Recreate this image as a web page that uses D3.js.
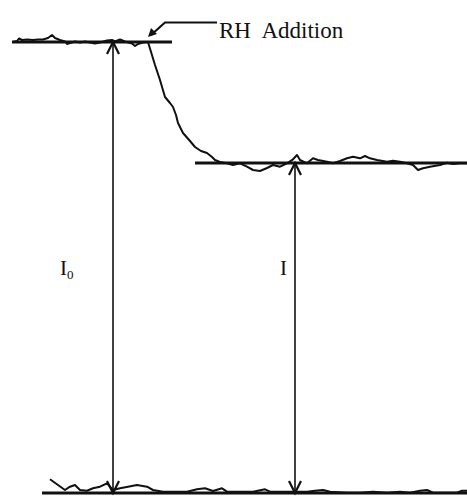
<!DOCTYPE html>
<html>
<head>
<meta charset="utf-8">
<script src="https://cdn.jsdelivr.net/npm/d3@7"></script>
<style>
  html, body { margin: 0; padding: 0; background: #fff; }
  svg { display: block; }
</style>
</head>
<body>
<div id="chart"></div>
<script>
// ---- data (time in s, detector signal in arbitrary units) ----
const topTrace = [[1,451],[5,452],[7,454.5],[10,453],[15,453.5],[21,453],[26,453.5],[31,453.5],[36,455],[40,458],[43,455],[48,453],[53,451.5],[55,449],[58,450],[63,451.5],[68,450.5],[73,451.5],[78,450.5],[83,449.5],[88,450.5],[95,452.5],[100,453],[103,451.5],[108,453.5],[113,451.5],[120,449.5],[123,447],[126,449],[131,450.5],[136,451]];
const dropTrace = [[136,451],[143,428],[148,413],[153,396],[158,390],[161,386],[164,378],[166,370],[171,360],[178,352],[183,346],[189,342],[195,340],[200,336],[203,333],[208,331]];
const midTrace = [[208,331],[215,329.7],[221,328],[228,329.7],[235,326.3],[241,323],[248,322],[255,325],[261,328],[268,326.3],[275,329.7],[281,333.7],[285,338],[288,333],[295,329.7],[301,334.7],[306,333],[315,331.3],[321,329.7],[328,332],[335,334.7],[341,336.3],[348,334.7],[353,337],[358,334.7],[365,333],[375,331.3],[381,332.3],[388,331.3],[395,329.7],[401,328],[406,323],[411,324.7],[418,326.3],[428,328],[435,330.3],[441,329],[448,329.7],[455,329.7]];
const bottomTrace = [[38,13.7],[46,8],[53,3],[58,6.3],[63,8],[68,3],[75,2.3],[81,4.7],[88,6.3],[95,9.7],[101,3],[108,4.7],[116,6.3],[125,8],[135,6.3],[141,3],[151,1.3],[161,1.3],[175,1.3],[185,3.7],[193,4.7],[201,2],[210,4.7],[215,1.3],[228,1.3],[241,1.3],[253,3.7],[258,1.3],[271,1.3],[281,1.3],[295,1.3],[303,2.3],[311,3],[318,1.3],[335,0.3],[348,0.3],[361,1.3],[375,0.3],[388,1.3],[398,0.3],[408,2.3],[415,3],[421,0.3],[435,0.3],[445,0.3],[450,2.3],[455,2.3]];

const baselineStart = [0, 183, 30];
const baselineEnd   = [160, 455, 455];
const baselineValue = [451, 330, 0];

const levelNames = ["I", "I"];
const levelSubs  = ["0", ""];
const levelTimes = [101, 283];
const levelValues = [451, 330];
const labelTimes = [48, 268];
const labelValue = 218;

const additionTime = 136;
const additionLabel = "RH Addition";

// ---- drawing ----
const W = 467, H = 497;
const svg = d3.select("#chart").append("svg").attr("width", W).attr("height", H);

const x = d3.scaleLinear().domain([0, 455]).range([12, 467]);
const y = d3.scaleLinear().domain([0, 451]).range([493, 42]);

const ink = "#111";
const line = d3.line().x(d => x(d[0])).y(d => y(d[1]));

// baselines
svg.append("g").selectAll("line").data(baselineValue).join("line")
  .attr("x1", (d, i) => x(baselineStart[i]))
  .attr("x2", (d, i) => x(baselineEnd[i]))
  .attr("y1", d => y(d)).attr("y2", d => y(d))
  .attr("stroke", ink).attr("stroke-width", 2.8);

// traces
[topTrace, dropTrace, midTrace, bottomTrace].forEach(tr => {
  svg.append("path").attr("d", line(tr))
    .attr("fill", "none").attr("stroke", ink)
    .attr("stroke-width", 2).attr("stroke-linejoin", "round");
});

// double-headed measurement arrows
const ah = 12, aw = 6;
levelTimes.forEach((t, i) => {
  const xx = x(t), y1 = y(levelValues[i]), y0 = y(0);
  const g = svg.append("g").attr("stroke", ink).attr("fill", "none").attr("stroke-width", 1.6);
  g.append("line").attr("x1", xx).attr("x2", xx).attr("y1", y1).attr("y2", y0);
  g.append("path").attr("d", `M${xx - aw},${y1 + ah}L${xx},${y1}L${xx + aw},${y1 + ah}`).attr("stroke-width", 2.2);
  g.append("path").attr("d", `M${xx - aw},${y0 - ah}L${xx},${y0}L${xx + aw},${y0 - ah}`).attr("stroke-width", 2.2);
});

// level labels
levelNames.forEach((n, i) => {
  const tx = svg.append("text")
    .attr("x", x(labelTimes[i])).attr("y", y(labelValue))
    .attr("font-family", "Liberation Serif, Times New Roman, serif")
    .attr("font-size", 21).attr("fill", ink).text(n);
  if (levelSubs[i]) tx.append("tspan").attr("font-size", 13).attr("dy", 4).text(levelSubs[i]);
});

// annotation
const tipX = x(additionTime), tipY = y(451) - 5;
svg.append("path")
  .attr("d", `M${tipX + 69},${tipY - 14.5}L${tipX + 17},${tipY - 14.5}L${tipX + 3},${tipY - 2}`)
  .attr("fill", "none").attr("stroke", ink).attr("stroke-width", 2.2);
svg.append("path")
  .attr("d", `M${tipX},${tipY}L${tipX + 3},${tipY - 9}L${tipX + 9},${tipY - 3}Z`)
  .attr("fill", ink);
svg.append("text")
  .attr("x", tipX + 71).attr("y", tipY + 1)
  .attr("font-family", "Liberation Serif, Times New Roman, serif")
  .attr("font-size", 23).attr("word-spacing", 6).attr("fill", ink)
  .text(additionLabel);
</script>
</body>
</html>
